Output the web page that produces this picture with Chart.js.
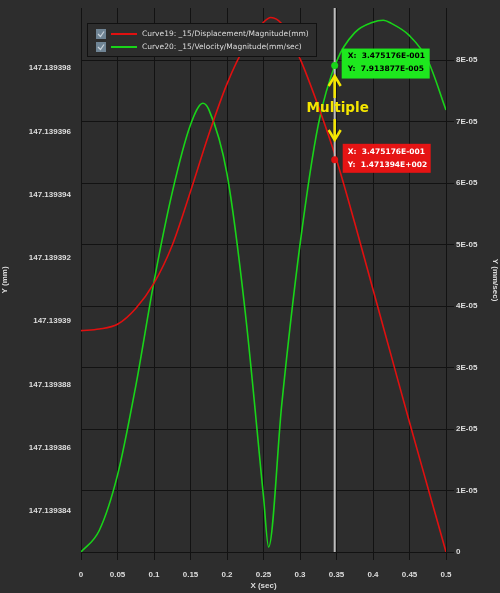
<!DOCTYPE html>
<html>
<head>
<meta charset="utf-8">
<script src="https://cdn.jsdelivr.net/npm/chart.js@4.4.1/dist/chart.umd.min.js"></script>
<style>
  html, body { margin: 0; padding: 0; background: #2b2b2b; }
  #wrap { width: 500px; height: 593px; }
</style>
</head>
<body>
<div id="wrap"><canvas id="chart"></canvas></div>
<script>
// Curve19: displacement magnitude (mm), left axis
const dispX = [0, 0.025, 0.05, 0.075, 0.1, 0.125, 0.15, 0.175, 0.2, 0.225, 0.25, 0.26, 0.275, 0.3, 0.325, 0.35, 0.375, 0.4, 0.425, 0.45, 0.475, 0.5];
const dispY = [147.1393897, 147.13938975, 147.1393899, 147.1393904, 147.1393912, 147.1393924, 147.1393941, 147.1393959, 147.1393975, 147.1393987, 147.13939945, 147.1393996, 147.1393994, 147.1393983, 147.1393968, 147.1393951, 147.1393931, 147.139391, 147.1393889, 147.1393868, 147.13938475, 147.1393827];

// Curve20: velocity magnitude (mm/sec), right axis
const velX = [0, 0.025, 0.05, 0.075, 0.1, 0.125, 0.15, 0.167, 0.175, 0.2, 0.225, 0.25, 0.257, 0.275, 0.3, 0.325, 0.35, 0.375, 0.4, 0.414, 0.425, 0.45, 0.475, 0.5];
const velY = [0, 0.35e-5, 1.25e-5, 2.7e-5, 4.4e-5, 5.85e-5, 6.95e-5, 7.30e-5, 7.2e-5, 6.15e-5, 3.9e-5, 0.9e-5, 0.08e-5, 2.4e-5, 5.0e-5, 6.95e-5, 7.98e-5, 8.45e-5, 8.62e-5, 8.65e-5, 8.6e-5, 8.4e-5, 8.0e-5, 7.19e-5];

const leftTicks = [147.139384, 147.139386, 147.139388, 147.13939, 147.139392, 147.139394, 147.139396, 147.139398];
const rightTicks = [0, 1e-5, 2e-5, 3e-5, 4e-5, 5e-5, 6e-5, 7e-5, 8e-5];
const legendLabels = ['Curve19: _15/Displacement/Magnitude(mm)', 'Curve20: _15/Velocity/Magnitude(mm/sec)'];

// cursor readout
const cursorX = 0.3475176;
const cursorVel = 7.913877e-5;
const cursorDisp = 147.1393951;
const greenText = ['X:  3.475176E-001', 'Y:  7.913877E-005'];
const redText = ['X:  3.475176E-001', 'Y:  1.471394E+002'];

const RED = '#e01010';
const GREEN = '#19d419';
const TXT = '#dddddd';
const tickFont = { family: 'Liberation Sans', size: 8, weight: 'bold' };

function trimNum(v, d) {
  return v.toFixed(d).replace(/\.?0+$/, '');
}

const overlay = {
  id: 'overlay',
  beforeDraw(chart) {
    const c = chart.ctx;
    c.save();
    c.fillStyle = '#2d2d2d';
    c.fillRect(0, 0, chart.width, chart.height);
    c.restore();
  },
  afterDatasetsDraw(chart) {
    const c = chart.ctx;
    const sx = chart.scales.x, yl = chart.scales.yL, yr = chart.scales.yR;
    const a = chart.chartArea;
    const px = sx.getPixelForValue(cursorX);
    c.save();
    // cursor line
    c.strokeStyle = '#bdbdbd';
    c.lineWidth = 2;
    c.beginPath(); c.moveTo(px, a.top); c.lineTo(px, a.bottom); c.stroke();

    const gy = yr.getPixelForValue(cursorVel);
    const ry = yl.getPixelForValue(cursorDisp);
    c.fillStyle = GREEN;
    c.beginPath(); c.arc(px, gy, 3.5, 0, Math.PI * 2); c.fill();
    c.fillStyle = RED;
    c.beginPath(); c.arc(px, ry, 3.5, 0, Math.PI * 2); c.fill();

    // readout boxes
    c.font = 'bold 7.5px "DejaVu Sans"';
    c.textBaseline = 'middle';
    c.fillStyle = '#1ee81e';
    c.fillRect(px + 7, gy - 17, 88, 30);
    c.fillStyle = '#000';
    c.fillText(greenText[0], px + 13, gy - 9);
    c.fillText(greenText[1], px + 13, gy + 4);
    c.fillStyle = '#e61414';
    c.fillRect(px + 8, ry - 16, 88, 29);
    c.fillStyle = '#fff';
    c.fillText(redText[0], px + 13, ry - 8);
    c.fillText(redText[1], px + 13, ry + 5);

    // "Multiple" with arrows
    c.fillStyle = '#f5e600';
    c.strokeStyle = '#f5e600';
    c.font = 'bold 13.5px "DejaVu Sans"';
    c.textAlign = 'center';
    c.fillText('Multiple', px + 3, 108);
    c.lineWidth = 2.5;
    c.beginPath(); c.moveTo(px, 98); c.lineTo(px, 77); c.stroke();
    c.beginPath(); c.moveTo(px - 6, 86); c.lineTo(px, 76); c.lineTo(px + 6, 86); c.stroke();
    c.beginPath(); c.moveTo(px, 119); c.lineTo(px, 139); c.stroke();
    c.beginPath(); c.moveTo(px - 6, 130); c.lineTo(px, 140); c.lineTo(px + 6, 130); c.stroke();

    // legend
    c.textAlign = 'left';
    c.fillStyle = '#2d2d2d';
    c.fillRect(87, 23, 229, 33);
    c.strokeStyle = '#111';
    c.lineWidth = 1;
    c.strokeRect(87.5, 23.5, 229, 33);
    c.font = '7.5px "DejaVu Sans"';
    [RED, GREEN].forEach((col, i) => {
      const y = 34 + i * 13;
      c.fillStyle = '#6f8494';
      c.fillRect(96, y - 5, 10, 10);
      c.strokeStyle = '#c8d2da';
      c.lineWidth = 1.2;
      c.beginPath(); c.moveTo(98, y); c.lineTo(100.5, y + 2.5); c.lineTo(104, y - 2.5); c.stroke();
      c.strokeStyle = col;
      c.lineWidth = 2;
      c.beginPath(); c.moveTo(111, y); c.lineTo(137, y); c.stroke();
      c.fillStyle = TXT;
      c.fillText(legendLabels[i], 142, y);
    });
    c.restore();
  }
};

new Chart(document.getElementById('chart'), {
  type: 'line',
  data: {
    datasets: [{
      label: legendLabels[0],
      data: dispX.map((x, i) => ({ x, y: dispY[i] })),
      yAxisID: 'yL',
      borderColor: RED,
      borderWidth: 1.6,
      pointRadius: 0,
      cubicInterpolationMode: 'monotone'
    }, {
      label: legendLabels[1],
      data: velX.map((x, i) => ({ x, y: velY[i] })),
      yAxisID: 'yR',
      borderColor: GREEN,
      borderWidth: 1.6,
      pointRadius: 0,
      cubicInterpolationMode: 'monotone'
    }]
  },
  options: {
    responsive: true,
    maintainAspectRatio: false,
    animation: false,
    layout: { padding: { top: 8, left: 0, right: 0, bottom: 0 } },
    plugins: { legend: { display: false }, tooltip: { enabled: false } },
    scales: {
      x: {
        type: 'linear', min: 0, max: 0.5,
        grid: { color: '#121212', lineWidth: 1 },
        border: { color: '#121212' },
        ticks: { stepSize: 0.05, color: TXT, font: tickFont, padding: 10, callback: v => trimNum(v, 2) },
        title: { display: true, text: 'X (sec)', color: TXT, font: tickFont, padding: 2 },
        afterFit: s => { s.height = 41; }
      },
      yL: {
        position: 'left',
        min: 147.1393827, max: 147.1393999,
        grid: { display: false },
        border: { color: '#121212' },
        afterBuildTicks: s => { s.ticks = leftTicks.map(v => ({ value: v })); },
        ticks: { color: TXT, font: tickFont, padding: 2, callback: v => trimNum(v, 6) },
        title: { display: true, text: 'Y (mm)', color: TXT, font: tickFont, padding: 0 },
        afterFit: s => { s.width = 81; }
      },
      yR: {
        position: 'right',
        min: 0, max: 8.85e-5,
        grid: { color: '#121212', lineWidth: 1 },
        border: { color: '#121212' },
        afterBuildTicks: s => { s.ticks = rightTicks.map(v => ({ value: v })); },
        ticks: { color: TXT, font: tickFont, padding: 2,
          callback: v => { const n = Math.round(v / 1e-5); return n === 0 ? '0' : n + 'E-05'; } },
        title: { display: true, text: 'Y (mm/sec)', color: TXT, font: tickFont, padding: 0 },
        afterFit: s => { s.width = 54; }
      }
    }
  },
  plugins: [overlay]
});
</script>
</body>
</html>
